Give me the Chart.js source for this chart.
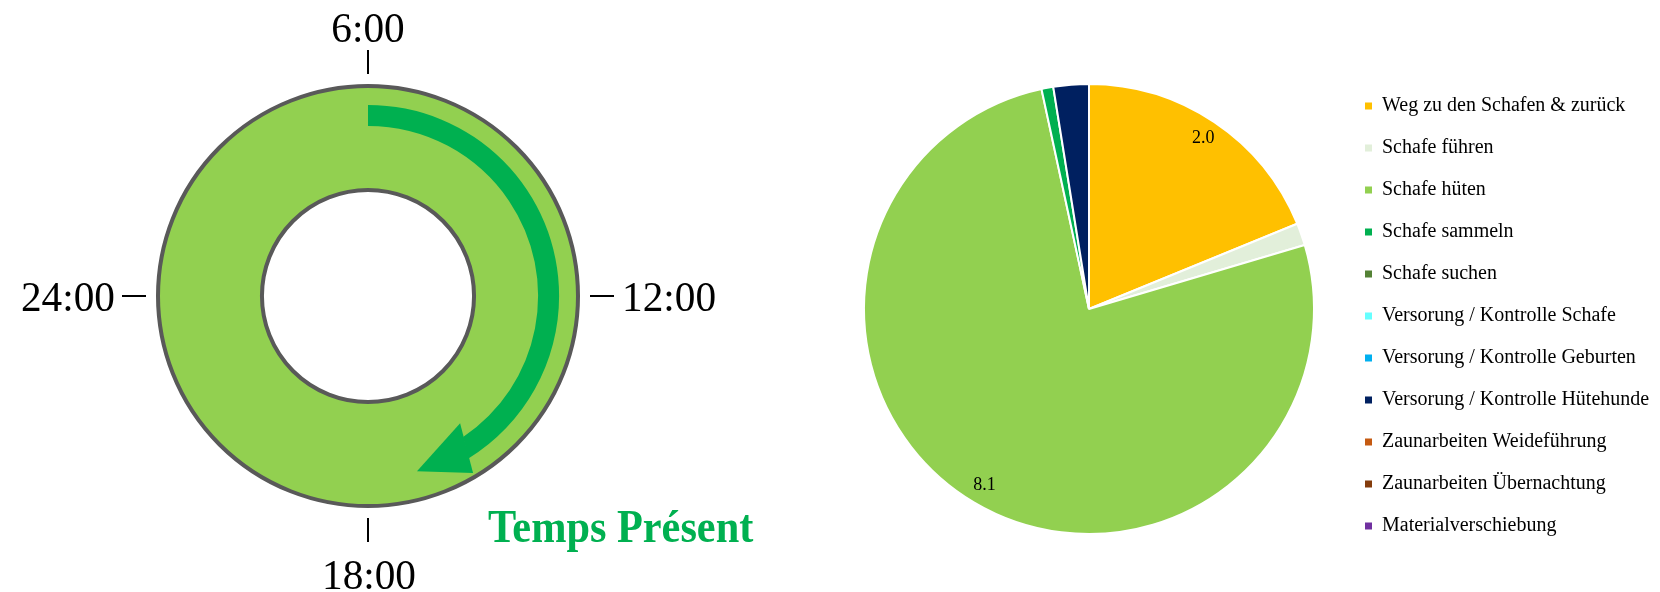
<!DOCTYPE html>
<html><head><meta charset="utf-8">
<script src="https://cdn.jsdelivr.net/npm/chart.js@4.4.1/dist/chart.umd.min.js"></script>
<style>
html,body{margin:0;padding:0;background:#fff;overflow:hidden;}
#wrap{position:relative;width:1660px;height:592px;overflow:hidden;}
#c1{position:absolute;left:0;top:0;}
#c2{position:absolute;left:790px;top:0;}
</style></head><body>
<div id="wrap">
<canvas id="c1" width="760" height="592"></canvas>
<canvas id="c2" width="900" height="592"></canvas>
</div>
<script>
// ---- data ----
const clockLabels = ['6:00', '12:00', '18:00', '24:00'];
const clockAngles = [-90, 0, 90, 180];
const dayHours = [24];
const ringTitle = 'Temps Présent';

const categories = [
  'Weg zu den Schafen & zurück',
  'Schafe führen',
  'Schafe hüten',
  'Schafe sammeln',
  'Schafe suchen',
  'Versorung / Kontrolle Schafe',
  'Versorung / Kontrolle Geburten',
  'Versorung / Kontrolle Hütehunde',
  'Zaunarbeiten Weideführung',
  'Zaunarbeiten Übernachtung',
  'Materialverschiebung'
];
const hours = [2.0, 0.17, 8.1, 0.09, 0, 0, 0, 0.27, 0, 0, 0];
const sliceColors = ['#FFC000', '#E2EFDA', '#92D050', '#00B050', '#548235', '#66FFFF',
                     '#00B0F0', '#002060', '#C55A11', '#843C0C', '#7030A0'];

const fam = "'Liberation Serif', 'Times New Roman', serif";
const rad = d => d * Math.PI / 180;

// ---- left: 24h ring ----
const clockPlugin = {
  id: 'clock',
  afterDatasetsDraw(chart) {
    const ctx = chart.ctx;
    const a = chart.getDatasetMeta(0).data[0];
    const cx = a.x, cy = a.y, R = a.outerRadius, r = a.innerRadius;
    ctx.save();
    // arrow shaft
    const P = (deg, rr) => [cx + rr * Math.cos(rad(deg)), cy + rr * Math.sin(rad(deg))];
    ctx.fillStyle = '#00B050';
    ctx.beginPath();
    ctx.arc(cx, cy, R * 0.91, rad(-90), rad(58.3));
    ctx.arc(cx, cy, R * 0.81, rad(56), rad(-90), true);
    ctx.closePath();
    ctx.fill();
    // arrow head
    ctx.beginPath();
    let p = P(54.1, R * 0.748); ctx.moveTo(p[0], p[1]);
    p = P(74.4, R * 0.867); ctx.lineTo(p[0], p[1]);
    p = P(59.3, R * 0.98); ctx.lineTo(p[0], p[1]);
    ctx.closePath();
    ctx.fill();
    // borders
    ctx.strokeStyle = '#595959';
    ctx.lineWidth = 4;
    ctx.beginPath(); ctx.arc(cx, cy, R, 0, Math.PI * 2); ctx.stroke();
    ctx.beginPath(); ctx.arc(cx, cy, r, 0, Math.PI * 2); ctx.stroke();
    // ticks + labels
    ctx.strokeStyle = '#000';
    ctx.lineWidth = 2;
    ctx.fillStyle = '#000';
    ctx.font = '43px ' + fam;
    ctx.textBaseline = 'alphabetic';
    clockLabels.forEach((t, i) => {
      const ang = clockAngles[i];
      const c = Math.round(Math.cos(rad(ang))), s = Math.round(Math.sin(rad(ang)));
      ctx.beginPath();
      ctx.moveTo(cx + c * (R + 12), cy + s * (R + 12));
      ctx.lineTo(cx + c * (R + 36), cy + s * (R + 36));
      ctx.stroke();
      let x, y;
      if (s === -1) { ctx.textAlign = 'center'; x = cx; y = cy - 254; }
      else if (s === 1) { ctx.textAlign = 'center'; x = cx + 1; y = cy + 293; }
      else if (c === 1) { ctx.textAlign = 'left'; x = cx + 254; y = cy + 15; }
      else { ctx.textAlign = 'right'; x = cx - 253; y = cy + 15; }
      ctx.save();
      ctx.translate(x, y);
      ctx.scale(0.96, 1);
      ctx.fillText(t, 0, 0);
      ctx.restore();
    });
    // title
    ctx.fillStyle = '#00B050';
    ctx.font = 'bold 46px ' + fam;
    ctx.textAlign = 'left';
    ctx.save();
    ctx.translate(cx + 120, cy + 246);
    ctx.scale(0.92, 1);
    ctx.fillText(ringTitle, 0, 0);
    ctx.restore();
    ctx.restore();
  }
};

new Chart(document.getElementById('c1'), {
  type: 'doughnut',
  data: { labels: ['24h'], datasets: [{ data: dayHours, backgroundColor: '#92D050', borderWidth: 0 }] },
  options: {
    responsive: false, animation: false, events: [],
    radius: 210, cutout: '50.5%',
    layout: { padding: { right: 24 } },
    plugins: { legend: { display: false }, tooltip: { enabled: false } }
  },
  plugins: [clockPlugin]
});

// ---- right: pie ----
const LEG_FONT = 20, LEG_PAD = 22, LEG_BOX = 7;
const mctx = document.createElement('canvas').getContext('2d');
mctx.font = 'normal ' + LEG_FONT + 'px ' + fam;
const maxText = Math.max(...categories.map(t => mctx.measureText(t).width));
const legendW = LEG_PAD + LEG_BOX + LEG_FONT / 2 + maxText + 10;
const padR = 900 - 553 - legendW;

const valueLabels = {
  id: 'valueLabels',
  afterDatasetsDraw(chart) {
    const ctx = chart.ctx;
    const meta = chart.getDatasetMeta(0);
    ctx.save();
    ctx.font = '18px ' + fam;
    ctx.fillStyle = '#000';
    ctx.textAlign = 'center';
    ctx.textBaseline = 'middle';
    meta.data.forEach((a, i) => {
      const v = hours[i];
      if (v < 1) return;
      const mid = (a.startAngle + a.endAngle) / 2;
      const rr = a.outerRadius * 0.912;
      ctx.fillText(v.toFixed(1), a.x + rr * Math.cos(mid), a.y + rr * Math.sin(mid));
    });
    ctx.restore();
  }
};

new Chart(document.getElementById('c2'), {
  type: 'pie',
  data: {
    labels: categories,
    datasets: [{ data: hours, backgroundColor: sliceColors, borderColor: '#fff', borderWidth: 2 }]
  },
  options: {
    responsive: false, animation: false, events: [],
    radius: 225,
    layout: { padding: { left: 45, right: padR, top: 26, bottom: 0 } },
    plugins: {
      tooltip: { enabled: false },
      legend: {
        position: 'right',
        align: 'center',
        title: { display: true, text: '', font: { size: 10, lineHeight: 1.2 }, padding: { top: 1, bottom: 1 } },
        labels: {
          font: { size: LEG_FONT, family: fam },
          color: '#000',
          boxWidth: LEG_BOX,
          boxHeight: LEG_BOX,
          padding: LEG_PAD,
          generateLabels(chart) {
            const items = Chart.overrides.doughnut.plugins.legend.labels.generateLabels(chart);
            items.forEach(it => { it.lineWidth = 0; it.strokeStyle = it.fillStyle; it.hidden = false; });
            return items;
          }
        }
      }
    }
  },
  plugins: [valueLabels]
});
</script>
</body></html>
